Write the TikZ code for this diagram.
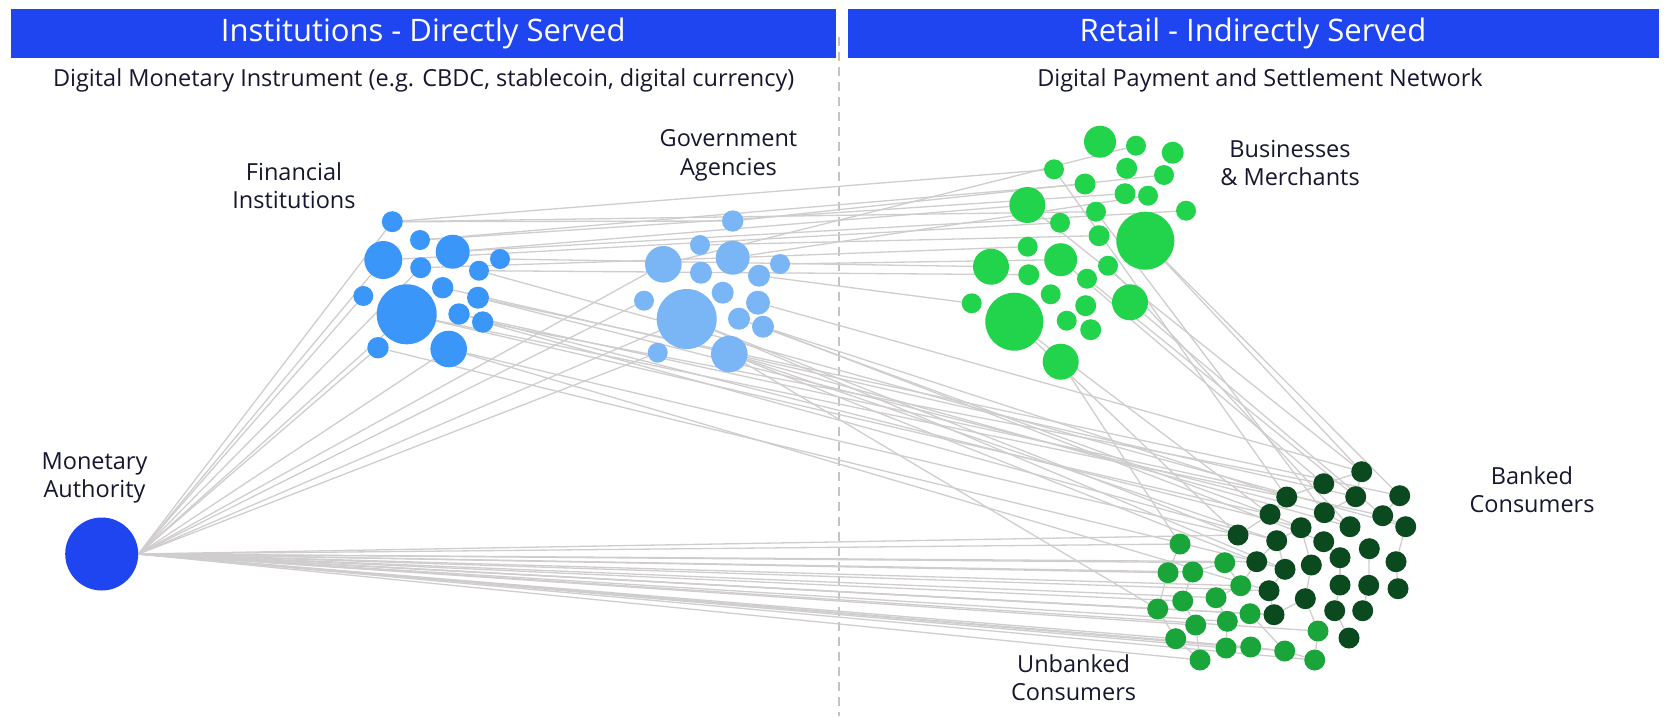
\documentclass[tikz,border=0pt]{standalone}
\usepackage{fontspec}
\setmainfont{Open Sans}
\usepackage{tikz}
\usetikzlibrary{backgrounds}
\definecolor{band}{HTML}{1F45F1}
\definecolor{inst}{HTML}{3B96F9}
\definecolor{gov}{HTML}{7AB5F5}
\definecolor{merch}{HTML}{22D44C}
\definecolor{banked}{HTML}{0A4A1E}
\definecolor{unbanked}{HTML}{1AA53A}
\definecolor{ink}{HTML}{16162E}
\definecolor{wire}{HTML}{CFCDCD}

\begin{document}
\begin{tikzpicture}[x=1pt,y=-1pt,every node/.style={font=\fontsize{23.5}{28.5}\selectfont,text=ink}]
    \tikzstyle{head}=[fill=band,minimum height=49pt,inner sep=0pt,text=white,
                      font=\fontsize{31}{34}\selectfont];
    \tikzstyle{lbl}=[align=center,inner sep=0pt];
    \tikzstyle{dot}=[circle,inner sep=0pt];
    \tikzstyle{link}=[draw=wire,line width=1.3pt];
    \useasboundingbox (0,0) rectangle (1665,716);

    \node[head,minimum width=825pt] (hl) at (423.2,33) {Institutions - Directly Served};
    \node[head,minimum width=811pt] (hr) at (1253,33)  {Retail - Indirectly Served};
    \node (sl) at (423.7,80.7) {Digital Monetary Instrument (e.g. CBDC, stablecoin, digital currency)};
    \node (sr) at (1260,80.7)  {Digital Payment and Settlement Network};

    \node[lbl] (lfi) at (294,185.5)   {Financial\\Institutions};
    \node[lbl] (lga) at (728.5,155.5) {Government\\Agencies};
    \node[lbl] (lbm) at (1290,163)    {Businesses\\\& Merchants};
    \node[lbl] (lma) at (94.5,478)    {Monetary\\Authority};
    \node[lbl] (lbc) at (1532,489.5)  {Banked\\Consumers};
    \node[lbl] (luc) at (1073.6,677.5){Unbanked\\Consumers};

    \node[dot,fill=band,minimum size=73pt] (ma) at (101.7,554) {};

    \foreach \n/\x/\y/\r in {1/392.3/221.7/10.5, 2/420/240/10, 3/383.3/260/19, 4/452.7/251.7/17,
        5/420.7/267.7/10.5, 6/500/259/10, 7/479/270.7/10, 8/363.3/296/10, 9/406.7/314.3/30,
        10/442.7/287.7/10.7, 11/478/297.7/11, 12/459/314/10.7, 13/482.7/322/10.7,
        14/378/347.7/10.7, 15/448.7/349/18.3}
      \node[dot,fill=inst,minimum size=\r*2pt] (fi\n) at (\x,\y) {};

    \foreach \n/\x/\y/\r in {1/732.7/221/10.7, 2/700/245/10, 3/663.3/264.3/18.3, 4/732.7/257.7/17,
        5/701/272.7/11, 6/780/264/10, 7/759/275.7/11, 8/644/300.7/10, 9/686.7/319/30,
        10/722.7/292.7/11, 11/758/302.7/12, 12/739/318.7/11, 13/763/326.7/11,
        14/657.7/352.7/10, 15/729.3/354/18.3}
      \node[dot,fill=gov,minimum size=\r*2pt] (ga\n) at (\x,\y) {};

    \foreach \n/\x/\y/\r in {1/1100/141.7/16, 2/1136/145.7/10, 3/1172.7/152.7/11, 4/1054/169.3/10,
        5/1126.7/168.3/10.5, 6/1164/175/10, 7/1085/184/10.5, 8/1027.3/205/18, 9/1125/193.7/10.5,
        10/1148/195.7/10, 11/1186/210.7/10, 12/1096/211.7/10, 13/1060/222.7/10, 14/1145.3/240.7/29,
        15/1099/235.7/10.5, 16/1027.7/246.7/10, 17/1060.7/259.7/16.5, 18/991/266.7/18,
        19/1108/265.7/10, 20/1028.7/274.7/10.5, 21/1087/278.7/10, 22/1050.7/294.3/10,
        23/1130/302.3/18, 24/971.7/303.3/10, 25/1014.3/321.7/29, 26/1085.7/305.7/10.5,
        27/1066.7/320.7/10, 28/1090.7/329.7/10.5, 29/1060.7/361.7/18}
      \node[dot,fill=merch,minimum size=\r*2pt] (bm\n) at (\x,\y) {};

    \foreach \n/\x/\y in {1/1361.7/471.7, 2/1323.7/483.7, 3/1399.7/495.7, 4/1286.7/497,
        5/1355.7/496.7, 6/1324.3/512.7, 7/1382.7/515.7, 8/1270/514.3, 9/1301/527.7,
        10/1350/526.7, 11/1405.7/526.7, 12/1238/535, 13/1276.7/540.7, 14/1323.7/541.7,
        15/1369.3/548.7, 16/1340/557.7, 17/1256.7/561.7, 18/1396/561.7, 19/1285/569.3,
        20/1311.3/565, 21/1269/590.7, 22/1340/585, 23/1368.7/585.3, 24/1398/588.7,
        25/1305.3/598.7, 26/1274/614.7, 27/1334.7/610.7, 28/1362.7/610.7, 29/1349/638}
      \node[dot,fill=banked,minimum size=21pt] (bc\n) at (\x,\y) {};

    \foreach \n/\x/\y in {1/1180/544, 2/1224.7/562.7, 3/1168/572.7, 4/1192.7/572,
        5/1240.7/585.7, 6/1182.7/601, 7/1216/597.7, 8/1157.7/609, 9/1250/613.7,
        10/1195.7/625, 11/1227.3/621.3, 12/1318/631, 13/1175.7/638.7, 14/1226/648,
        15/1250.7/647, 16/1284.7/651, 17/1200/660, 18/1314.7/660}
      \node[dot,fill=unbanked,minimum size=21pt] (uc\n) at (\x,\y) {};

    \begin{scope}[on background layer]
      \coordinate (dtop) at (838.5,37);
      \coordinate (dbot) at (838.5,716);
      \draw[wire!95!black,line width=2pt,dash pattern=on 9pt off 6pt] (dtop) -- (dbot);

      \foreach \b in {fi1,fi3,fi5,fi8,fi9,fi14,fi15,ga3,ga8,ga9,ga14,
                      uc1,uc2,uc3,uc4,uc5,uc6,uc7,uc8,uc9,uc10,uc11,uc12,uc13,uc14,uc15,uc16,uc17,uc18,
                      bc12,bc17,bc21,bc26}
        \draw[link] (ma.east) -- (\b);

      \foreach \a/\b in {fi1/bm4, fi1/bm12, fi1/ga1, fi2/bm7, fi2/bm9, fi4/bm8, fi4/bm11, fi6/bm18,
                         fi3/bm13, fi7/bm20, fi5/ga4, ga1/bm6, ga4/bm10, ga4/bm16, ga6/bm17,
                         ga2/bm15, ga7/bm24, ga3/bm2,
                         fi9/bc4, fi9/bc8, fi12/bc9, fi13/bc13, fi15/bc12, fi11/bc6, fi13/bc2,
                         fi15/bc21, fi10/bc5, fi14/bc17, fi11/bc3, fi12/bc7, fi7/bc11,
                         ga9/bc12, ga15/bc13, ga15/bc17, ga13/bc4, ga11/bc1, ga12/bc8, ga9/bc19,
                         ga15/uc8, ga13/bc14, ga15/bc10,
                         bm8/bc1, bm14/bc3, bm14/bc1, bm17/bc2, bm21/bc5, bm23/bc7, bm25/bc8,
                         bm29/uc1, bm19/bc10, bm12/bc6, bm4/bc4, bm25/bc12}
        \draw[link] (\a) -- (\b);

      \foreach \a/\b in {bc1/bc2, bc2/bc4, bc1/bc5, bc3/bc7, bc5/bc6, bc4/bc8, bc8/bc9, bc9/bc13,
                         bc6/bc10, bc7/bc11, bc11/bc18, bc13/bc19, bc9/bc20, bc14/bc16, bc17/bc19,
                         bc19/bc21, bc20/bc25, bc21/bc26, bc22/bc27, bc23/bc28, bc27/bc29,
                         bc18/bc24, bc16/bc22, bc25/bc26, bc13/bc17, bc12/bc8, bc15/bc23,
                         uc1/uc3, uc3/uc8, uc4/uc6, uc6/uc10, uc8/uc13, uc10/uc17, uc11/uc14,
                         uc14/uc15, uc15/uc16, uc16/uc18, uc12/uc18, uc2/uc5, uc5/uc7, uc7/uc11,
                         uc9/uc16, uc12/bc25, uc5/bc17, uc9/bc26, uc13/uc17, uc4/uc2}
        \draw[link] (\a) -- (\b);
    \end{scope}
\end{tikzpicture}
\end{document}
